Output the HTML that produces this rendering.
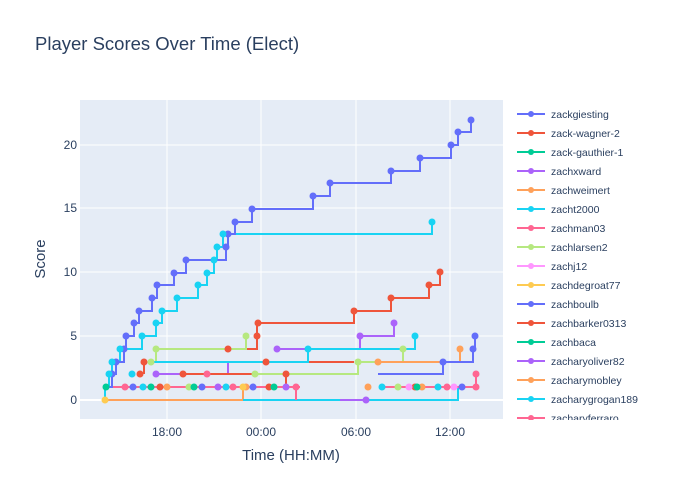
<!DOCTYPE html>
<html><head><meta charset="utf-8"><style>body{margin:0;background:#fff}svg{display:block;font-family:"Liberation Sans",sans-serif}</style></head><body>
<svg width="700" height="500" xmlns="http://www.w3.org/2000/svg">
<rect width="700" height="500" fill="#fff"/>
<rect x="80" y="100" width="423" height="319" fill="#e5ecf6"/>
<g stroke="#fff" stroke-width="1">
<line x1="80" x2="503" y1="400" y2="400" stroke-width="2"/>
<line x1="80" x2="503" y1="336" y2="336"/><line x1="80" x2="503" y1="272" y2="272"/>
<line x1="80" x2="503" y1="208" y2="208"/><line x1="80" x2="503" y1="145" y2="145"/>
<line x1="167" x2="167" y1="100" y2="419"/><line x1="261" x2="261" y1="100" y2="419"/>
<line x1="356" x2="356" y1="100" y2="419"/><line x1="450" x2="450" y1="100" y2="419"/>
</g>
<g font-size="12" fill="#2a3f5f" text-anchor="end">
<text x="77" y="404">0</text><text x="77" y="340">5</text><text x="77" y="276">10</text><text x="77" y="212">15</text><text x="77" y="149">20</text>
</g>
<g font-size="12" fill="#2a3f5f" text-anchor="middle">
<text x="167" y="436">18:00</text><text x="261" y="436">00:00</text><text x="356" y="436">06:00</text><text x="450" y="436">12:00</text>
</g>
<text x="291" y="460" font-size="15" fill="#2a3f5f" text-anchor="middle">Time (HH:MM)</text>
<text transform="translate(45,259) rotate(-90)" font-size="15" fill="#2a3f5f" text-anchor="middle">Score</text>
<text x="35" y="50" font-size="18.5" fill="#2a3f5f">Player Scores Over Time (Elect)</text>
<g fill="none" stroke-width="2">
<path stroke="#FFA15A" d="M105 400H243V387"/>
<path stroke="#19d3f3" d="M243 400H458V387"/>
<path stroke="#ab63fa" d="M155 374H228V362M340 400H366"/>
<path stroke="#EF553B" d="M183 374H286V387M144 362V374M228 349H257V336V323H354V311H391V298H429V285H440V272"/>
<path stroke="#EF553B" d="M266 362H354"/>
<path stroke="#B6E880" d="M156 349H246V336M151 362H156V349M255 374H358V362H403V349"/>
<path stroke="#ab63fa" d="M277 349H360V336H394V323"/>
<path stroke="#19d3f3" d="M151 362H308V349H415V336"/>
<path stroke="#FFA15A" d="M378 362H460V349"/>
<path stroke="#636efa" d="M378 374H443V362H473V349H475V336"/>
<path stroke="#FF6692" d="M105 387H300M296 387V400M380 387H478M476 387V374"/>
<path stroke="#19d3f3" d="M105 400V387H109V374H112V362H120V349H142V336H156V323H162V311H177V298H198V285H207V273H214V260H217V247H223V234H432V222"/>
<path stroke="#636efa" d="M105 387H112V374H116V362H124V349H126V336H134V323H139V311H152V298H157V285H174V273H186V260H226V247H228V234H235V222H252V209H313V196H330V183H391V171H420V158H451V145H458V132H471V120"/>
</g>
<g>
<g fill="#636efa"><circle cx="112" cy="374" r="3.5"/><circle cx="116" cy="362" r="3.5"/><circle cx="124" cy="349" r="3.5"/><circle cx="126" cy="336" r="3.5"/><circle cx="134" cy="323" r="3.5"/><circle cx="139" cy="311" r="3.5"/><circle cx="152" cy="298" r="3.5"/><circle cx="157" cy="285" r="3.5"/><circle cx="174" cy="273" r="3.5"/><circle cx="186" cy="260" r="3.5"/><circle cx="226" cy="247" r="3.5"/><circle cx="228" cy="234" r="3.5"/><circle cx="235" cy="222" r="3.5"/><circle cx="252" cy="209" r="3.5"/><circle cx="313" cy="196" r="3.5"/><circle cx="330" cy="183" r="3.5"/><circle cx="391" cy="171" r="3.5"/><circle cx="420" cy="158" r="3.5"/><circle cx="451" cy="145" r="3.5"/><circle cx="458" cy="132" r="3.5"/><circle cx="471" cy="120" r="3.5"/><circle cx="443" cy="362" r="3.5"/><circle cx="473" cy="349" r="3.5"/><circle cx="475" cy="336" r="3.5"/><circle cx="133" cy="387" r="3.5"/><circle cx="202" cy="387" r="3.5"/><circle cx="253" cy="387" r="3.5"/><circle cx="462" cy="387" r="3.5"/></g>
<g fill="#19d3f3"><circle cx="109" cy="374" r="3.5"/><circle cx="112" cy="362" r="3.5"/><circle cx="120" cy="349" r="3.5"/><circle cx="142" cy="336" r="3.5"/><circle cx="156" cy="323" r="3.5"/><circle cx="162" cy="311" r="3.5"/><circle cx="177" cy="298" r="3.5"/><circle cx="198" cy="285" r="3.5"/><circle cx="207" cy="273" r="3.5"/><circle cx="214" cy="260" r="3.5"/><circle cx="217" cy="247" r="3.5"/><circle cx="223" cy="234" r="3.5"/><circle cx="432" cy="222" r="3.5"/><circle cx="308" cy="349" r="3.5"/><circle cx="415" cy="336" r="3.5"/><circle cx="132" cy="374" r="3.5"/><circle cx="382" cy="387" r="3.5"/><circle cx="438" cy="387" r="3.5"/><circle cx="143" cy="387" r="3.5"/><circle cx="226" cy="387" r="3.5"/></g>
<g fill="#EF553B"><circle cx="228" cy="349" r="3.5"/><circle cx="257" cy="336" r="3.5"/><circle cx="258" cy="323" r="3.5"/><circle cx="354" cy="311" r="3.5"/><circle cx="391" cy="298" r="3.5"/><circle cx="429" cy="285" r="3.5"/><circle cx="440" cy="272" r="3.5"/><circle cx="144" cy="362" r="3.5"/><circle cx="140" cy="374" r="3.5"/><circle cx="183" cy="374" r="3.5"/><circle cx="266" cy="362" r="3.5"/><circle cx="286" cy="374" r="3.5"/><circle cx="269" cy="387" r="3.5"/><circle cx="415" cy="387" r="3.5"/><circle cx="160" cy="387" r="3.5"/></g>
<g fill="#B6E880"><circle cx="156" cy="349" r="3.5"/><circle cx="246" cy="336" r="3.5"/><circle cx="151" cy="362" r="3.5"/><circle cx="255" cy="374" r="3.5"/><circle cx="358" cy="362" r="3.5"/><circle cx="403" cy="349" r="3.5"/><circle cx="189" cy="387" r="3.5"/><circle cx="398" cy="387" r="3.5"/></g>
<g fill="#ab63fa"><circle cx="277" cy="349" r="3.5"/><circle cx="360" cy="336" r="3.5"/><circle cx="394" cy="323" r="3.5"/><circle cx="156" cy="374" r="3.5"/><circle cx="366" cy="400" r="3.5"/><circle cx="286" cy="387" r="3.5"/><circle cx="218" cy="387" r="3.5"/></g>
<g fill="#FFA15A"><circle cx="378" cy="362" r="3.5"/><circle cx="460" cy="349" r="3.5"/><circle cx="368" cy="387" r="3.5"/><circle cx="422" cy="387" r="3.5"/><circle cx="167" cy="387" r="3.5"/><circle cx="246" cy="387" r="3.5"/></g>
<g fill="#FF6692"><circle cx="296" cy="387" r="3.5"/><circle cx="476" cy="374" r="3.5"/><circle cx="207" cy="374" r="3.5"/><circle cx="233" cy="387" r="3.5"/><circle cx="447" cy="387" r="3.5"/><circle cx="476" cy="387" r="3.5"/><circle cx="125" cy="387" r="3.5"/></g>
<g fill="#00cc96"><circle cx="106" cy="387" r="3.5"/><circle cx="194" cy="387" r="3.5"/><circle cx="274" cy="387" r="3.5"/><circle cx="417" cy="387" r="3.5"/><circle cx="151" cy="387" r="3.5"/></g>
<g fill="#FF97FF"><circle cx="409" cy="387" r="3.5"/><circle cx="454" cy="387" r="3.5"/></g>
<circle cx="105" cy="400" r="3.5" fill="#FECB52"/><circle cx="243" cy="387" r="3.5" fill="#FECB52"/>
</g>
<g font-size="10.5" fill="#2a3f5f" stroke-width="2">
<g transform="translate(0,114)"><line x1="517" x2="545" stroke="#636efa"/><circle cx="531" r="3" fill="#636efa"/><text x="551" y="4">zackgiesting</text></g>
<g transform="translate(0,133)"><line x1="517" x2="545" stroke="#EF553B"/><circle cx="531" r="3" fill="#EF553B"/><text x="551" y="4">zack-wagner-2</text></g>
<g transform="translate(0,152)"><line x1="517" x2="545" stroke="#00cc96"/><circle cx="531" r="3" fill="#00cc96"/><text x="551" y="4">zack-gauthier-1</text></g>
<g transform="translate(0,171)"><line x1="517" x2="545" stroke="#ab63fa"/><circle cx="531" r="3" fill="#ab63fa"/><text x="551" y="4">zachxward</text></g>
<g transform="translate(0,190)"><line x1="517" x2="545" stroke="#FFA15A"/><circle cx="531" r="3" fill="#FFA15A"/><text x="551" y="4">zachweimert</text></g>
<g transform="translate(0,209)"><line x1="517" x2="545" stroke="#19d3f3"/><circle cx="531" r="3" fill="#19d3f3"/><text x="551" y="4">zacht2000</text></g>
<g transform="translate(0,228)"><line x1="517" x2="545" stroke="#FF6692"/><circle cx="531" r="3" fill="#FF6692"/><text x="551" y="4">zachman03</text></g>
<g transform="translate(0,247)"><line x1="517" x2="545" stroke="#B6E880"/><circle cx="531" r="3" fill="#B6E880"/><text x="551" y="4">zachlarsen2</text></g>
<g transform="translate(0,266)"><line x1="517" x2="545" stroke="#FF97FF"/><circle cx="531" r="3" fill="#FF97FF"/><text x="551" y="4">zachj12</text></g>
<g transform="translate(0,285)"><line x1="517" x2="545" stroke="#FECB52"/><circle cx="531" r="3" fill="#FECB52"/><text x="551" y="4">zachdegroat77</text></g>
<g transform="translate(0,304)"><line x1="517" x2="545" stroke="#636efa"/><circle cx="531" r="3" fill="#636efa"/><text x="551" y="4">zachboulb</text></g>
<g transform="translate(0,323)"><line x1="517" x2="545" stroke="#EF553B"/><circle cx="531" r="3" fill="#EF553B"/><text x="551" y="4">zachbarker0313</text></g>
<g transform="translate(0,342)"><line x1="517" x2="545" stroke="#00cc96"/><circle cx="531" r="3" fill="#00cc96"/><text x="551" y="4">zachbaca</text></g>
<g transform="translate(0,361)"><line x1="517" x2="545" stroke="#ab63fa"/><circle cx="531" r="3" fill="#ab63fa"/><text x="551" y="4">zacharyoliver82</text></g>
<g transform="translate(0,380)"><line x1="517" x2="545" stroke="#FFA15A"/><circle cx="531" r="3" fill="#FFA15A"/><text x="551" y="4">zacharymobley</text></g>
<g transform="translate(0,399)"><line x1="517" x2="545" stroke="#19d3f3"/><circle cx="531" r="3" fill="#19d3f3"/><text x="551" y="4">zacharygrogan189</text></g>
<svg x="505" y="410" width="180" height="10" overflow="hidden"><g transform="translate(-505,8)"><line x1="517" x2="545" stroke="#FF6692"/><circle cx="531" r="3" fill="#FF6692"/><text x="551" y="4">zacharyferraro</text></g></svg>
</g>
</svg>
</body></html>
